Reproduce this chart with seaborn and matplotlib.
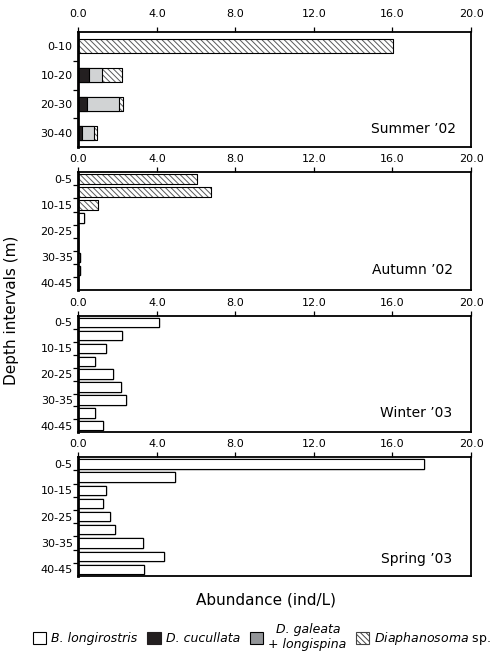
import numpy as np
import pandas as pd
import matplotlib
matplotlib.use("Agg")
import matplotlib.pyplot as plt
from matplotlib.patches import Patch
import seaborn as sns

# Depth intervals (m)
depths_summer = ["0-10", "10-20", "20-30", "30-40"]
depths_5m = ["0-5", "5-10", "10-15", "15-20", "20-25", "25-30", "30-35", "35-40", "40-45"]

# Abundance (ind/L) per taxon
summer_blong = [0.0, 0.0, 0.0, 0.0]
summer_dcuc = [0.0, 0.56, 0.46, 0.20]
summer_dgal = [0.0, 0.66, 1.63, 0.62]
summer_diaph = [16.02, 0.99, 0.17, 0.12]

autumn_blong = [0.0, 0.0, 0.0, 0.30, 0.0, 0.0, 0.10, 0.10, 0.0]
autumn_dcuc = [0.0, 0.0, 0.0, 0.0, 0.0, 0.0, 0.0, 0.0, 0.0]
autumn_dgal = [0.0, 0.0, 0.0, 0.0, 0.0, 0.0, 0.0, 0.0, 0.0]
autumn_diaph = [6.07, 6.75, 1.02, 0.0, 0.0, 0.0, 0.0, 0.0, 0.0]

winter_blong = [4.12, 2.24, 1.40, 0.84, 1.76, 2.19, 2.43, 0.87, 1.28]
winter_dcuc = [0.0] * 9
winter_dgal = [0.0] * 9
winter_diaph = [0.0] * 9

spring_blong = [17.60, 4.95, 1.41, 1.28, 1.60, 1.87, 3.30, 4.35, 3.37]
spring_dcuc = [0.0] * 9
spring_dgal = [0.0] * 9
spring_diaph = [0.0] * 9

season_names = ["Summer \u201902", "Autumn \u201902", "Winter \u201903", "Spring \u201903"]

# colours
c_black = "#231f20"
c_gal_bar = "#d1d3d4"
c_gal_leg = "#939598"
c_hatch = "#58595b"
hatch_pat = "\\" * 6

plt.rcParams["font.family"] = ["DejaVu Sans"]
plt.rcParams["hatch.linewidth"] = 0.7
plt.rcParams["axes.linewidth"] = 1.3

panels = [
    (depths_summer, summer_blong, summer_dcuc, summer_dgal, summer_diaph, 0.48),
    (depths_5m, autumn_blong, autumn_dcuc, autumn_dgal, autumn_diaph, 0.72),
    (depths_5m, winter_blong, winter_dcuc, winter_dgal, winter_diaph, 0.72),
    (depths_5m, spring_blong, spring_dcuc, spring_dgal, spring_diaph, 0.70),
]

# axes boxes in pixels (top, bottom) of the 503x653 figure
W, H = 503, 653
ax_left, ax_right = 78.3, 471
ax_tb = [(31.7, 147.3), (172.3, 290), (316, 432.3), (457.3, 576)]
txt_pos = [(0.961, 0.154), (0.953, 0.17), (0.951, 0.163), (0.953, 0.14)]

fig = plt.figure(figsize=(W / 100, H / 100), dpi=100)

for i, (depths, blong, dcuc, dgal, diaph, bw) in enumerate(panels):
    top, bot = ax_tb[i]
    ax = fig.add_axes([ax_left / W, 1 - bot / H, (ax_right - ax_left) / W, (bot - top) / H])

    df = pd.DataFrame({"depth": depths, "blong": blong, "dcuc": dcuc, "dgal": dgal, "diaph": diaph})
    df["c1"] = df["blong"]
    df["c2"] = df["c1"] + df["dcuc"]
    df["c3"] = df["c2"] + df["dgal"]
    df["c4"] = df["c3"] + df["diaph"]

    common = dict(data=df, y="depth", order=depths, width=bw, errorbar=None,
                  saturation=1, ax=ax)
    # stacked bars drawn as overlapping cumulative totals
    sns.barplot(x="c4", color="white", edgecolor=c_hatch, linewidth=0.7, hatch=hatch_pat, **common)
    sns.barplot(x="c4", fill=False, color="black", linewidth=0.8, **common)
    sns.barplot(x="c3", color=c_gal_bar, edgecolor="black", linewidth=0.8, **common)
    sns.barplot(x="c2", color=c_black, edgecolor="black", linewidth=0.8, **common)
    sns.barplot(x="c1", color="white", edgecolor="black", linewidth=0.8, **common)

    ax.set_xlim(0, 20)
    ax.set_ylim(len(depths) - 0.5, -0.5)
    ax.xaxis.tick_top()
    ax.set_xticks(np.arange(0, 20.1, 4))
    ax.set_xticklabels([f"{v:.1f}" for v in np.arange(0, 20.1, 4)])
    ax.tick_params(axis="x", which="major", length=3.5, width=0.9, pad=6 if i == 0 else 2.5,
                   labelsize=8, direction="out", colors="black")
    ax.set_xlabel("")
    ax.set_ylabel("")

    step = 1 if len(depths) == 4 else 2
    ax.set_yticks(range(0, len(depths), step))
    ax.set_yticklabels(depths[::step])
    ax.set_yticks(np.arange(0.5, len(depths) - 1, 1), minor=True)
    ax.tick_params(axis="y", which="major", length=0, pad=4, labelsize=8)
    ax.tick_params(axis="y", which="minor", length=3.5, width=0.9, direction="out")
    ax.spines["left"].set_linewidth(2)
    for s in ax.spines.values():
        s.set_color("black")

    tx, ty = txt_pos[i]
    ax.text(tx, ty, season_names[i], transform=ax.transAxes, ha="right", va="center", fontsize=10)

fig.text(12 / W, 1 - 310 / H, "Depth intervals (m)", rotation=90, ha="center", va="center", fontsize=11)
fig.text(266 / W, 1 - 600 / H, "Abundance (ind/L)", ha="center", va="center", fontsize=11)

handles = [
    Patch(facecolor="white", edgecolor="black", linewidth=0.8),
    Patch(facecolor=c_black, edgecolor=c_black, linewidth=0.8),
    Patch(facecolor=c_gal_leg, edgecolor="black", linewidth=0.8),
    Patch(facecolor="white", edgecolor="#444444", linewidth=0.8, hatch=hatch_pat),
]
labels = ["B. longirostris", "D. cucullata", "  D. galeata\n+ longispina", "Diaphanosoma $\\mathrm{sp.}$"]
fig.legend(handles, labels, loc="center left", bbox_to_anchor=(33 / W, 1 - 637 / H), ncol=4,
           frameon=False, prop={"style": "italic", "size": 9}, handlelength=1.05, handleheight=1.05,
           handletextpad=0.4, columnspacing=0.8, borderaxespad=0, borderpad=0)

fig.savefig("out.png", dpi=100)
